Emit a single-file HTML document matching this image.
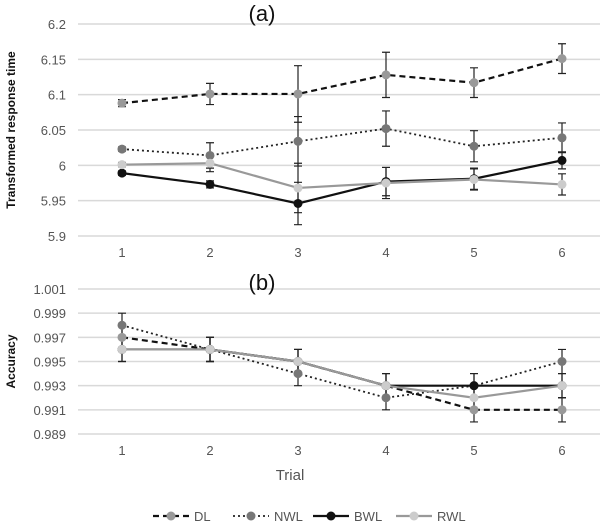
<!DOCTYPE html>
<html><head><meta charset="utf-8"><style>
body{margin:0;background:#fff}
svg{display:block;font-family:"Liberation Sans",sans-serif}
</style></head><body>
<svg id="c" width="600" height="529"></svg>
<script>
const trials=[1,2,3,4,5,6];
const rtTicks=[5.9,5.95,6,6.05,6.1,6.15,6.2];
const accTicks=[0.989,0.991,0.993,0.995,0.997,0.999,1.001];
const rtDL=[6.088,6.101,6.101,6.128,6.117,6.151];
const rtDLerr=[0.005,0.015,0.04,0.032,0.021,0.021];
const rtNWL=[6.023,6.014,6.034,6.052,6.027,6.039];
const rtNWLerr=[0.003,0.018,0.035,0.025,0.022,0.021];
const rtBWL=[5.989,5.973,5.946,5.977,5.981,6.007];
const rtBWLerr=[0.003,0.005,0.03,0.02,0.015,0.012];
const rtRWL=[6.001,6.003,5.968,5.975,5.980,5.973];
const rtRWLerr=[0.003,0.012,0.035,0.022,0.015,0.015];
const accDL=[0.997,0.996,0.995,0.993,0.991,0.991];
const accNWL=[0.998,0.996,0.994,0.992,0.993,0.995];
const accBWL=[0.996,0.996,0.995,0.993,0.993,0.993];
const accRWL=[0.996,0.996,0.995,0.993,0.992,0.993];
const accErr=[0.001,0.001,0.001,0.001,0.001,0.001];
const seriesNames=["DL","NWL","BWL","RWL"];

const NS="http://www.w3.org/2000/svg";
const svg=document.getElementById('c');
function mk(t,a,txt){const e=document.createElementNS(NS,t);for(const k in a)e.setAttribute(k,a[k]);if(txt!==undefined)e.textContent=txt;svg.appendChild(e);return e;}
const styles=[
 {line:"#111",dash:"6,4",mark:"#999",w:2.2},
 {line:"#222",dash:"2,3",mark:"#777",w:1.8},
 {line:"#111",dash:"",mark:"#111",w:2.2},
 {line:"#999",dash:"",mark:"#ccc",w:2.2}];
const xS=i=>122+(i-1)*88;

function panel(name,ticks,y0,y1,series,errs,fmt,title,titleY,yTitle){
  const lo=ticks[0],hi=ticks[ticks.length-1];
  const yS=v=>y1+(v-lo)/(hi-lo)*(y0-y1);
  ticks.forEach(t=>{
    const g=mk('line',{x1:78,x2:600,y1:yS(t),y2:yS(t),stroke:"#d9d9d9","stroke-width":1.5});
    
    
    const l=mk('text',{x:66,y:yS(t)+5,"text-anchor":"end","font-size":13,fill:"#555"},fmt(t));
    
    
  });
  trials.forEach(t=>{
    const l=mk('text',{x:xS(t),y:y1+21,"text-anchor":"middle","font-size":13,fill:"#555"},t);
    
    
  });
  const tt=mk('text',{x:262,y:titleY,"text-anchor":"middle","font-size":22,fill:"#111"},title);
  
  
  const yt=mk('text',{x:0,y:0,"text-anchor":"middle","font-size":12,"font-weight":"bold",fill:"#111",transform:`translate(15,${(y0+y1)/2}) rotate(-90)`},yTitle);
  
  
  series.forEach((s,k)=>{
    const st=styles[k];
    s.forEach((v,i)=>{
      const e=errs[k][i],x=xS(trials[i]);
      const b=mk('path',{d:`M${x},${yS(v-e)}V${yS(v+e)}M${x-4},${yS(v-e)}h8M${x-4},${yS(v+e)}h8`,stroke:"#222","stroke-width":1.2,fill:"none"});
      
      
    });
  });
  series.forEach((s,k)=>{
    const st=styles[k];
    const p=mk('polyline',{points:s.map((v,i)=>xS(trials[i])+','+yS(v)).join(' '),fill:"none",stroke:st.line,"stroke-width":st.w,"stroke-dasharray":st.dash});
    
    
    s.forEach((v,i)=>{
      const c=mk('circle',{cx:xS(trials[i]),cy:yS(v),r:4.5,fill:st.mark});
      
      
    });
  });
}
panel('rt',rtTicks,24,236,[rtDL,rtNWL,rtBWL,rtRWL],[rtDLerr,rtNWLerr,rtBWLerr,rtRWLerr],t=>String(+t.toFixed(2)),'(a)',21,'Transformed response time');
panel('acc',accTicks,289,434,[accDL,accNWL,accBWL,accRWL],[accErr,accErr,accErr,accErr],t=>t.toFixed(3).replace(/^1\.001$/,'1.001'),'(b)',290,'Accuracy');
const xt=mk('text',{x:290,y:480,"text-anchor":"middle","font-size":15,fill:"#555"},'Trial');


const lx=[153,253,312,395];
seriesNames.forEach((n,k)=>{
  const st=styles[k],x=[153,233,313,396][k];
  const l=mk('line',{x1:x,x2:x+36,y1:516,y2:516,stroke:st.line,"stroke-width":st.w,"stroke-dasharray":st.dash});
  
  
  const c=mk('circle',{cx:x+18,cy:516,r:4.5,fill:st.mark});
  
  
  const t=mk('text',{x:x+41,y:521,"font-size":13,fill:"#555"},n);
  
  
});
</script>
</body></html>
